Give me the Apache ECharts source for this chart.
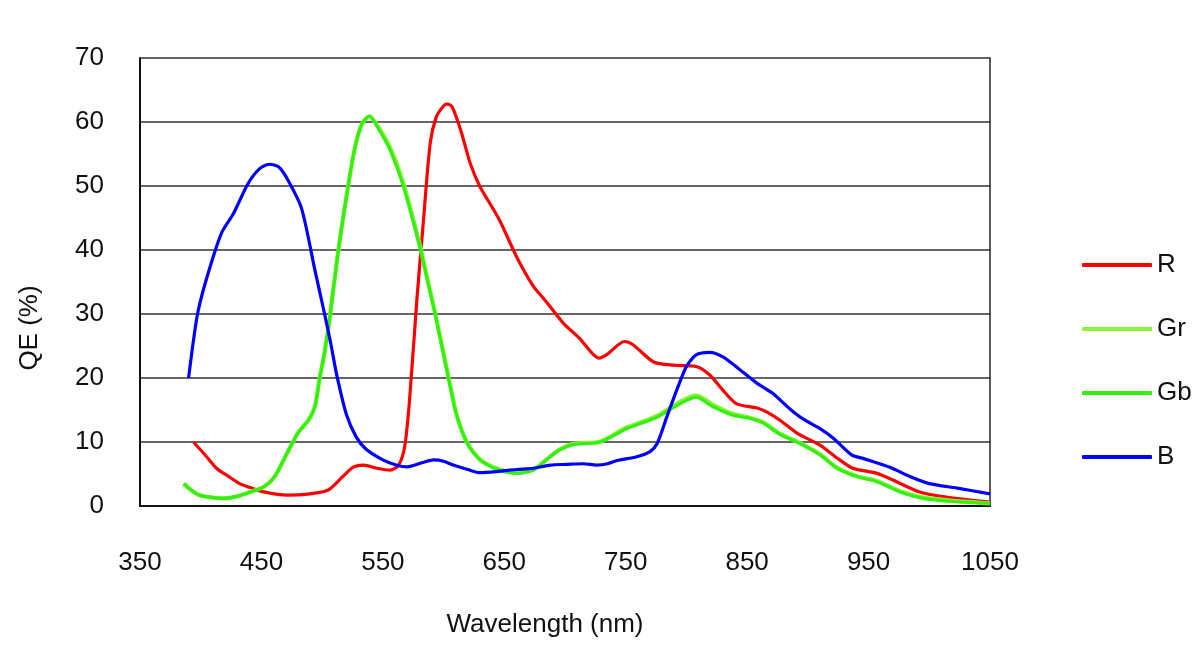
<!DOCTYPE html>
<html>
<head>
    <meta charset="utf-8">
    <title>QE</title>
    <style>
        html, body { margin: 0; padding: 0; background: #fff; }
    </style>
</head>
<body>
    <div id="main" style="width: 1204px;height:653px;"></div>
    <script src="https://cdn.jsdelivr.net/npm/echarts@6/dist/echarts.min.js"></script>
    <script>
        var xTicks = [350, 450, 550, 650, 750, 850, 950, 1050];
        var yTicks = [0, 10, 20, 30, 40, 50, 60, 70];
        var names = ['R', 'Gr', 'Gb', 'B'];

        var rWl = [394, 404, 413, 423, 432, 442, 452, 471, 490, 505, 517, 526, 534, 545, 556, 563, 568, 572, 578, 583, 589, 594, 600, 603, 607, 614, 622, 630, 646, 660, 674, 682, 688, 699, 712, 728, 734, 749, 756, 773, 789, 808, 819, 830, 841, 858, 866, 877, 891, 910, 924, 937, 957, 973, 992, 1014, 1050];
        var rQE = [10.0, 7.9, 5.9, 4.6, 3.5, 2.8, 2.2, 1.7, 1.9, 2.5, 4.6, 6.1, 6.4, 5.9, 5.6, 6.4, 9.3, 16.6, 32.2, 43.6, 56.7, 60.8, 62.5, 62.8, 62.4, 58.8, 53.5, 49.9, 44.7, 39.0, 34.3, 32.5, 31.1, 28.5, 26.2, 23.1, 23.6, 25.7, 25.2, 22.5, 22.0, 21.8, 20.5, 18.1, 16.0, 15.3, 14.7, 13.4, 11.4, 9.5, 7.5, 5.9, 5.1, 3.8, 2.2, 1.4, 0.6];

        var gWl = [386, 392, 399, 410, 419, 430, 438, 452, 461, 471, 480, 489, 494, 498, 502, 506, 513, 521, 527, 533, 539, 545, 556, 567, 581, 587, 593, 604, 611, 620, 630, 646, 660, 674, 688, 696, 707, 727, 734, 751, 767, 778, 795, 808, 822, 838, 852, 863, 877, 894, 910, 924, 940, 957, 976, 995, 1020, 1050];
        var grQE = [3.5, 2.5, 1.7, 1.3, 1.2, 1.5, 2.0, 3.0, 4.6, 8.2, 11.4, 13.5, 15.5, 20.0, 24.0, 29.0, 39.5, 49.5, 56.0, 59.8, 60.9, 59.6, 56.0, 50.4, 40.3, 35.2, 30.2, 20.2, 14.1, 9.7, 7.3, 5.7, 5.2, 5.7, 7.8, 8.9, 9.7, 10.0, 10.5, 12.3, 13.4, 14.3, 16.3, 17.3, 15.8, 14.4, 13.8, 13.1, 11.3, 9.8, 8.1, 6.0, 4.7, 3.9, 2.3, 1.3, 0.8, 0.4];
        var gbQE = [3.5, 2.5, 1.7, 1.3, 1.2, 1.5, 2.0, 3.0, 4.6, 8.2, 11.4, 13.5, 15.5, 20.0, 24.0, 29.0, 39.5, 49.5, 56.0, 59.8, 60.9, 59.4, 55.6, 49.9, 40.0, 35.0, 30.0, 20.0, 14.0, 9.6, 7.2, 5.6, 5.1, 5.6, 7.7, 8.8, 9.6, 9.9, 10.4, 12.1, 13.2, 14.1, 16.0, 17.0, 15.5, 14.2, 13.7, 13.0, 11.2, 9.7, 8.0, 5.9, 4.6, 3.8, 2.2, 1.2, 0.7, 0.4];

        var bWl = [390, 397, 404, 417, 427, 439, 449, 457, 464, 471, 483, 494, 502, 507, 512, 520, 528, 536, 550, 561, 570, 583, 592, 600, 608, 620, 630, 645, 660, 674, 688, 701, 715, 726, 735, 743, 759, 770, 776, 784, 792, 800, 808, 819, 830, 844, 858, 871, 885, 896, 910, 921, 936, 946, 968, 984, 1000, 1023, 1050];
        var bQE = [20.0, 29.6, 35.0, 42.6, 45.7, 50.4, 52.8, 53.4, 53.0, 51.2, 46.5, 36.9, 30.0, 25.5, 20.5, 14.3, 10.8, 8.9, 7.2, 6.4, 6.1, 6.8, 7.2, 7.0, 6.4, 5.7, 5.2, 5.4, 5.7, 5.9, 6.4, 6.5, 6.6, 6.4, 6.6, 7.1, 7.7, 8.5, 9.8, 14.0, 18.1, 21.8, 23.6, 24.0, 23.3, 21.3, 19.2, 17.6, 15.2, 13.6, 12.1, 10.6, 8.0, 7.4, 6.0, 4.6, 3.5, 2.8, 1.9];

        function pairs(xs, ys) {
            return xs.map(function (x, i) { return [x, ys[i]]; });
        }

        var font = '"Liberation Sans", Arial, Helvetica, sans-serif';
        var fs = 26;
        var myChart = echarts.init(document.getElementById('main'));

        function lineSeries(name, color, data, width) {
            return {
                name: name,
                type: 'line',
                data: data,
                showSymbol: false,
                smooth: 0.25,
                lineStyle: { color: color, width: width },
                itemStyle: { color: color }
            };
        }

        var option = {
            backgroundColor: '#fff',
            animation: false,
            textStyle: { fontFamily: font },
            grid: {
                left: 140,
                right: 214,
                top: 58,
                bottom: 147,
                containLabel: false
            },
            legend: {
                orient: 'vertical',
                left: 1077,
                top: 247,
                itemWidth: 70,
                itemHeight: 4,
                itemGap: 38,
                icon: 'roundRect',
                data: names,
                textStyle: { fontFamily: font, fontSize: fs, color: '#111' }
            },
            xAxis: {
                type: 'value',
                min: xTicks[0],
                max: xTicks[xTicks.length - 1],
                interval: 100,
                name: 'Wavelength (nm)',
                nameLocation: 'middle',
                nameGap: 106,
                nameTextStyle: { fontFamily: font, fontSize: fs, color: '#111', padding: [0, 40, 0, 0] },
                axisLine: { lineStyle: { color: '#111', width: 2 } },
                axisTick: { show: false },
                splitLine: { show: false },
                axisLabel: {
                    fontFamily: font, fontSize: fs, color: '#111', margin: 44,
                    formatter: function (v) { return String(v); }
                }
            },
            yAxis: [{
                type: 'value',
                min: yTicks[0],
                max: yTicks[yTicks.length - 1],
                interval: 10,
                name: 'QE (%)',
                nameLocation: 'middle',
                nameRotate: 90,
                nameGap: 97,
                nameTextStyle: { fontFamily: font, fontSize: fs, color: '#111', padding: [0, 92, 0, 0] },
                axisLine: { show: true, lineStyle: { color: '#111', width: 2 } },
                axisTick: { show: false },
                splitLine: { show: true, lineStyle: { color: '#333', width: 1.5 } },
                axisLabel: { fontFamily: font, fontSize: fs, color: '#111', margin: 36 }
            }, {
                type: 'value',
                position: 'right',
                min: yTicks[0],
                max: yTicks[yTicks.length - 1],
                interval: 10,
                axisLine: { show: true, lineStyle: { color: '#222', width: 1.5 } },
                axisTick: { show: false },
                axisLabel: { show: false },
                splitLine: { show: false }
            }],
            series: [
                lineSeries('R', '#ff0000', pairs(rWl, rQE), 3.2),
                lineSeries('Gr', '#8cf23c', pairs(gWl, grQE), 4.2),
                lineSeries('Gb', '#33f010', pairs(gWl, gbQE), 3.2),
                lineSeries('B', '#0000ff', pairs(bWl, bQE), 3.2)
            ]
        };

        myChart.setOption(option);
    </script>
</body>
</html>
